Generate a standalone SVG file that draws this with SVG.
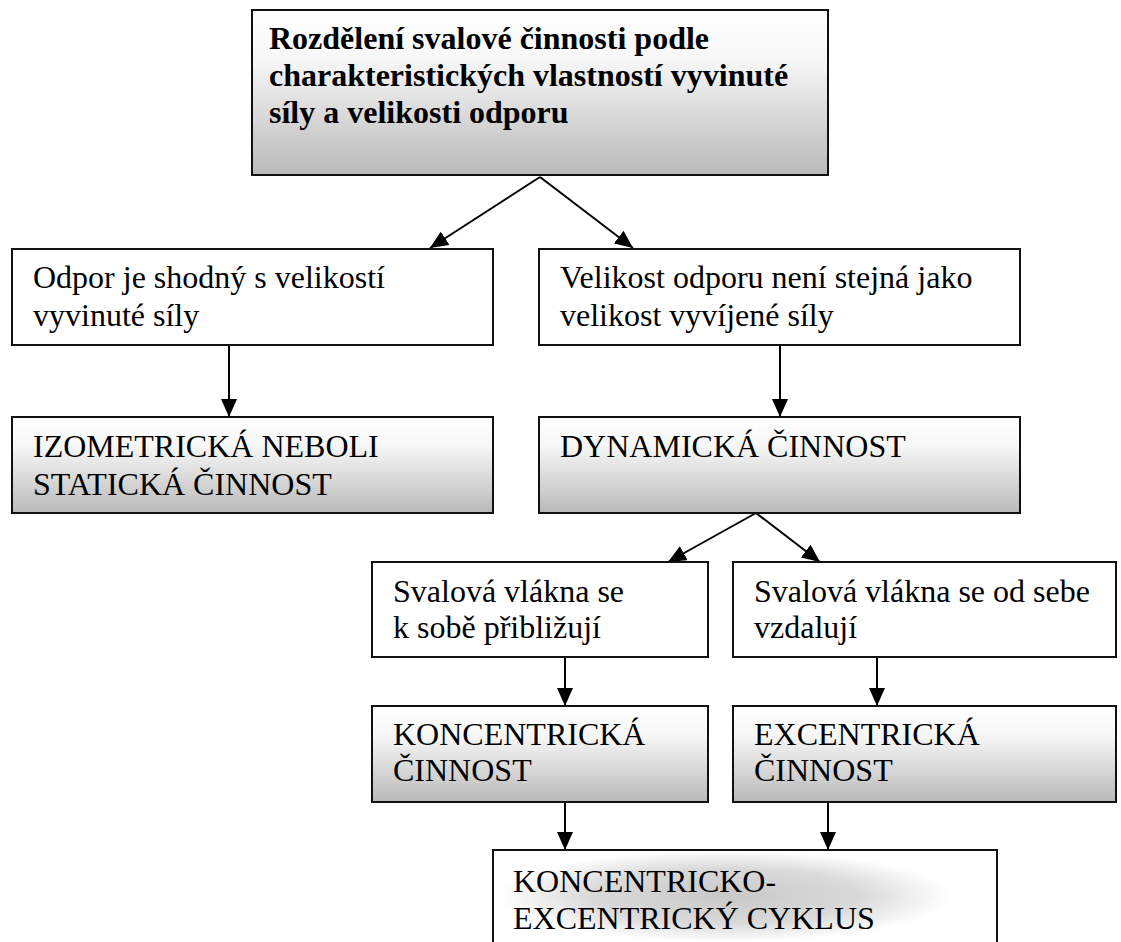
<svg xmlns="http://www.w3.org/2000/svg" width="1121" height="942" viewBox="0 0 1121 942">
<style>
  .box { stroke: #111; stroke-width: 2; }
  .w { fill: #ffffff; }
  .g { fill: url(#gray); }
  .t { font-family: "Liberation Serif", "Times New Roman", serif; font-size: 32px; fill: #000; }
  .b { font-weight: bold; }
  .c { stroke: #000; stroke-width: 2; fill: none; marker-end: url(#ah); }
</style>
<defs>
  <linearGradient id="gray" x1="0" y1="0" x2="0" y2="1">
    <stop offset="0" stop-color="#ffffff"/>
    <stop offset="0.3" stop-color="#f7f7f7"/>
    <stop offset="1" stop-color="#b9b9b9"/>
  </linearGradient>
  <radialGradient id="soft" gradientUnits="userSpaceOnUse" cx="0" cy="0" r="1" gradientTransform="translate(725 896) scale(225 46)">
    <stop offset="0" stop-color="#c8c8c8"/>
    <stop offset="0.6" stop-color="#dadada"/>
    <stop offset="1" stop-color="#ffffff"/>
  </radialGradient>
  <marker id="ah" markerWidth="18" markerHeight="16" refX="18" refY="8" orient="auto" markerUnits="userSpaceOnUse">
    <path d="M0,0 L18,8 L0,16 Z" fill="#000"/>
  </marker>
</defs>

<g id="connectors">
  <path class="c" d="M540,177 L430,248"/>
  <path class="c" d="M540,177 L633,248"/>
  <path class="c" d="M229,345 L229,417"/>
  <path class="c" d="M780,346 L780,417"/>
  <path class="c" d="M756,513 L668,562"/>
  <path class="c" d="M756,513 L820,562"/>
  <path class="c" d="M565,657 L565,706"/>
  <path class="c" d="M877,657 L877,706"/>
  <path class="c" d="M565,802 L565,850"/>
  <path class="c" d="M828,802 L828,850"/>
</g>

<g id="n-top">
  <rect class="box g" x="252" y="10" width="576" height="165"/>
  <text class="t b" x="269" y="49">Rozdělení svalové činnosti podle</text>
  <text class="t b" x="269" y="86">charakteristických vlastností vyvinuté</text>
  <text class="t b" x="269" y="123">síly a velikosti odporu</text>
</g>

<g id="n-shodny">
  <rect class="box w" x="12" y="249" width="481" height="96"/>
  <text class="t" x="33" y="288">Odpor je shodný s velikostí</text>
  <text class="t" x="33" y="326">vyvinuté síly</text>
</g>

<g id="n-izometricka">
  <rect class="box g" x="12" y="417" width="481" height="96"/>
  <text class="t" x="33" y="457">IZOMETRICKÁ NEBOLI</text>
  <text class="t" x="33" y="495">STATICKÁ ČINNOST</text>
</g>

<g id="n-neni">
  <rect class="box w" x="539" y="249" width="481" height="96"/>
  <text class="t" x="560" y="288">Velikost odporu není stejná jako</text>
  <text class="t" x="560" y="326">velikost vyvíjené síly</text>
</g>

<g id="n-dynamicka">
  <rect class="box g" x="539" y="417" width="481" height="96"/>
  <text class="t" x="560" y="457">DYNAMICKÁ ČINNOST</text>
</g>

<g id="n-priblizuji">
  <rect class="box w" x="372" y="562" width="336" height="95"/>
  <text class="t" x="393" y="602">Svalová vlákna se</text>
  <text class="t" x="393" y="638">k sobě přibližují</text>
</g>

<g id="n-vzdaluji">
  <rect class="box w" x="733" y="562" width="383" height="95"/>
  <text class="t" x="754" y="602">Svalová vlákna se od sebe</text>
  <text class="t" x="754" y="638">vzdalují</text>
</g>

<g id="n-koncentricka">
  <rect class="box g" x="372" y="706" width="336" height="96"/>
  <text class="t" x="393" y="745">KONCENTRICKÁ</text>
  <text class="t" x="393" y="781">ČINNOST</text>
</g>

<g id="n-excentricka">
  <rect class="box g" x="733" y="706" width="383" height="96"/>
  <text class="t" x="754" y="745">EXCENTRICKÁ</text>
  <text class="t" x="754" y="781">ČINNOST</text>
</g>

<g id="n-cyklus">
  <rect x="493" y="850" width="504" height="100" fill="url(#soft)" stroke="#111" stroke-width="2"/>
  <text class="t" x="513" y="892">KONCENTRICKO-</text>
  <text class="t" x="513" y="929">EXCENTRICKÝ CYKLUS</text>
</g>
</svg>
